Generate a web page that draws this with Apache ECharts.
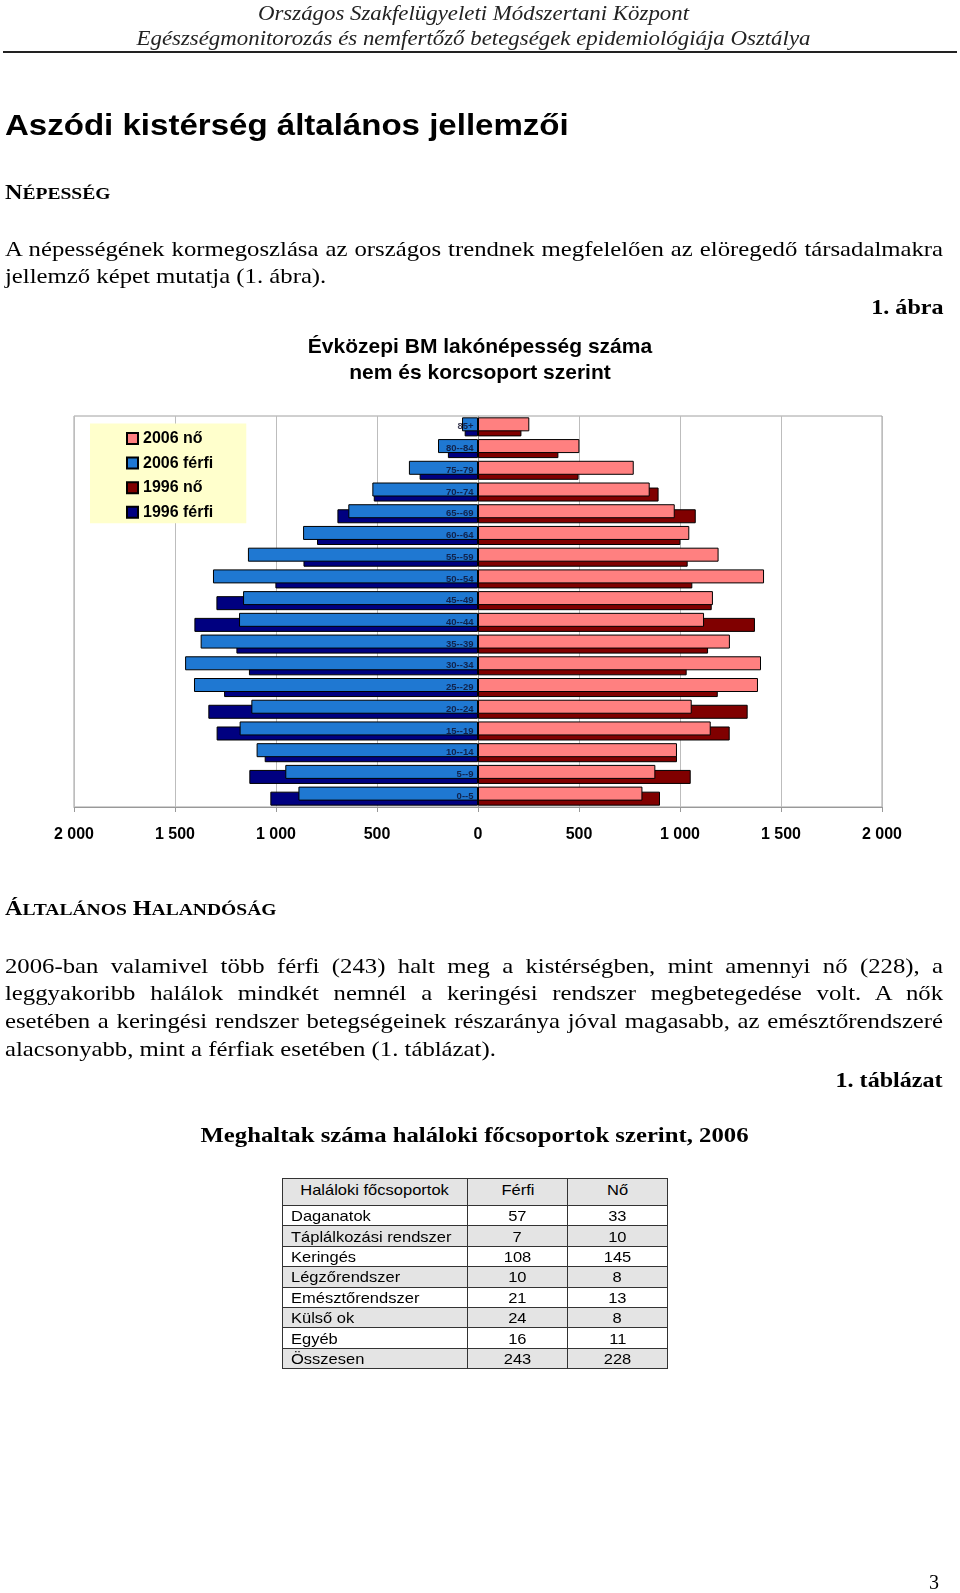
<!DOCTYPE html>
<html><head><meta charset="utf-8">
<script src="https://cdn.jsdelivr.net/npm/echarts@6/dist/echarts.min.js"></script>
<style>
html,body{margin:0;padding:0;background:#fff;}
body{width:960px;height:1593px;position:relative;overflow:hidden;}
#chart{position:absolute;left:0;top:0;width:960px;height:1593px;}
.t{position:absolute;white-space:nowrap;color:#000;}
.serif{font-family:"Liberation Serif","Times New Roman",serif;}
.sans{font-family:"Liberation Sans",Arial,sans-serif;}
.body{font-size:21.5px;line-height:21.5px;left:5px;transform:scaleX(1.15);transform-origin:0 50%;}
.j{width:815.7px;white-space:normal;text-align:justify;text-align-last:justify;}
.hd{font-weight:bold;font-size:21px;line-height:21px;left:5px;transform:scaleX(1.15);transform-origin:0 50%;}
.hd .sm{font-size:17px;}
.rt{right:17px;text-align:right;font-weight:bold;font-size:21.5px;line-height:21.5px;transform:scaleX(1.12);transform-origin:100% 50%;}
#tbl{position:absolute;left:282px;top:1178px;border-collapse:collapse;font-family:"Liberation Sans",Arial,sans-serif;font-size:15px;color:#000;}
#tbl td{border:1px solid #333;padding:0;height:19.4px;line-height:15px;text-align:center;}
#tbl tr.h td{vertical-align:top;padding-top:3px;height:23px;}
#tbl tr.g td{background:#e4e4e4;}
#tbl td.n{text-align:left;padding-left:8px;}
#tbl span{display:inline-block;transform:scaleX(1.1);transform-origin:50% 50%;}
#tbl td.n span{transform-origin:0 50%;}
</style></head>
<body>
<div id="chart"></div>

<div class="t serif" style="left:0;width:947px;text-align:center;top:2.8px;font-size:20.5px;line-height:20.5px;font-style:italic;color:#222;transform:scaleX(1.115);transform-origin:50% 50%;">Országos Szakfelügyeleti Módszertani Központ</div>
<div class="t serif" style="left:0;width:947px;text-align:center;top:28.3px;font-size:20.5px;line-height:20.5px;font-style:italic;color:#222;transform:scaleX(1.115);transform-origin:50% 50%;">Egészségmonitorozás és nemfertőző betegségek epidemiológiája Osztálya</div>
<div style="position:absolute;left:3px;top:51px;width:954px;height:2px;background:#222;"></div>

<div class="t sans" style="left:5px;top:110px;font-size:29.5px;line-height:29.5px;font-weight:bold;transform:scaleX(1.12);transform-origin:0 50%;">Aszódi kistérség általános jellemzői</div>

<div class="t serif hd" style="top:182.4px;">N<span class="sm">ÉPESSÉG</span></div>

<div class="t serif body j" style="top:238.7px;">A népességének kormegoszlása az országos trendnek megfelelően az elöregedő társadalmakra</div>
<div class="t serif body" style="top:266px;">jellemző képet mutatja (1. ábra).</div>
<div class="t serif rt" style="top:296.8px;">1. ábra</div>

<div class="t serif hd" style="top:897.9px;">Á<span class="sm">LTALÁNOS</span> H<span class="sm">ALANDÓSÁG</span></div>

<div class="t serif body j" style="top:955.5px;">2006-ban valamivel több férfi (243) halt meg a kistérségben, mint amennyi nő (228), a</div>
<div class="t serif body j" style="top:983.2px;">leggyakoribb halálok mindkét nemnél a keringési rendszer megbetegedése volt. A nők</div>
<div class="t serif body j" style="top:1011px;">esetében a keringési rendszer betegségeinek részaránya jóval magasabb, az emésztőrendszeré</div>
<div class="t serif body" style="top:1038.8px;">alacsonyabb, mint a férfiak esetében (1. táblázat).</div>
<div class="t serif rt" style="top:1070px;">1. táblázat</div>

<div class="t serif" style="left:0;width:949px;text-align:center;top:1125px;font-size:21.5px;line-height:21.5px;font-weight:bold;transform:scaleX(1.15);transform-origin:50% 50%;">Meghaltak száma haláloki főcsoportok szerint, 2006</div>

<table id="tbl"></table>

<div class="t serif" style="right:21px;top:1572.3px;font-size:20px;line-height:20px;">3</div>

<script>
// ---- chart data ----
const categories = ['85+','80--84','75--79','70--74','65--69','60--64','55--59','50--54','45--49','40--44','35--39','30--34','25--29','20--24','15--19','10--14','5--9','0--5'];
const female2006 = [254, 502, 771, 850, 974, 1046, 1191, 1416, 1163, 1119, 1247, 1401, 1386, 1058, 1152, 985, 878, 814];
const male2006   = [79, 198, 342, 523, 642, 866, 1139, 1312, 1163, 1183, 1373, 1450, 1406, 1122, 1180, 1096, 954, 889];
const female1996 = [215, 398, 498, 894, 1078, 1002, 1038, 1061, 1157, 1371, 1139, 1033, 1187, 1335, 1246, 985, 1053, 901];
const male1996   = [66, 149, 289, 516, 696, 797, 864, 1003, 1295, 1404, 1196, 1134, 1257, 1335, 1294, 1056, 1132, 1028];
const seriesNames = ['2006 nő', '2006 férfi', '1996 nő', '1996 férfi'];
const xTicks = [-2000, -1500, -1000, -500, 0, 500, 1000, 1500, 2000];

// ---- table data ----
const tableHeader = ['Haláloki főcsoportok', 'Férfi', 'Nő'];
const causes = ['Daganatok', 'Táplálkozási rendszer', 'Keringés', 'Légzőrendszer', 'Emésztőrendszer', 'Külső ok', 'Egyéb', 'Összesen'];
const deathsMale = [57, 7, 108, 10, 21, 24, 16, 243];
const deathsFemale = [33, 10, 145, 8, 13, 8, 11, 228];

// build table
(function(){
  const tbl = document.getElementById('tbl');
  const colW = [185, 100, 100];
  let html = '<colgroup>' + colW.map(w => '<col style="width:' + w + 'px">').join('') + '</colgroup>';
  html += '<tr class="h g">' + tableHeader.map(h => '<td><span>' + h + '</span></td>').join('') + '</tr>';
  causes.forEach((c, i) => {
    html += '<tr' + (i % 2 === 1 ? ' class="g"' : '') + '><td class="n"><span>' + c + '</span></td><td><span>' + deathsMale[i] + '</span></td><td><span>' + deathsFemale[i] + '</span></td></tr>';
  });
  tbl.innerHTML = html;
  tbl.style.width = '385px';
  tbl.style.tableLayout = 'fixed';
})();

function fmt(v) {
  const a = Math.abs(v);
  if (a >= 1000) return Math.floor(a / 1000) + ' ' + String(a % 1000).padStart(3, '0');
  return String(a);
}

const FONT = '"Liberation Sans", Arial, sans-serif';
const chart = echarts.init(document.getElementById('chart'), null, {renderer: 'canvas'});
const barCommon = {type: 'bar', barWidth: 14, barGap: '-64%'};
chart.setOption({
  animation: false,
  textStyle: {fontFamily: FONT},
  title: {
    text: 'Évközepi BM lakónépesség száma\nnem és korcsoport szerint',
    left: 'center', top: 328.5,
    textStyle: {fontFamily: FONT, fontSize: 21, fontWeight: 'bold', color: '#000', lineHeight: 26.5}
  },
  legend: {
    data: seriesNames,
    orient: 'vertical', left: 90, top: 423.5,
    backgroundColor: '#FFFFCC',
    padding: [7, 33, 3, 36],
    itemWidth: 11, itemHeight: 11, itemGap: 8.6,
    icon: 'rect',
    textStyle: {fontFamily: FONT, fontSize: 16, fontWeight: 'bold', color: '#000'}
  },
  grid: {left: 74, right: 78, top: 416, bottom: 786, show: true, borderColor: '#a0a0a0', borderWidth: 1, containLabel: false},
  xAxis: {
    type: 'value', min: xTicks[0], max: xTicks[xTicks.length - 1], interval: 500,
    axisLine: {show: true, lineStyle: {color: '#999'}},
    axisTick: {show: true, length: 5, lineStyle: {color: '#999'}},
    splitLine: {show: true, lineStyle: {color: '#bdbdbd'}},
    axisLabel: {formatter: fmt, fontSize: 16, fontWeight: 'bold', color: '#000', margin: 20, fontFamily: FONT}
  },
  yAxis: {
    type: 'category', data: categories, inverse: true,
    axisLine: {show: false},
    axisTick: {show: false},
    splitLine: {show: false},
    axisLabel: {show: false}
  },
  series: [
    Object.assign({}, barCommon, {name: seriesNames[0], stack: 's2006', z: 3, data: female2006, itemStyle: {color: '#FF8080', borderColor: '#000', borderWidth: 1}}),
    Object.assign({}, barCommon, {name: seriesNames[1], stack: 's2006', z: 3, data: male2006.map(v => -v), itemStyle: {color: '#1f78d2', borderColor: '#000', borderWidth: 1}}),
    Object.assign({}, barCommon, {name: seriesNames[2], stack: 's1996', z: 2, data: female1996, itemStyle: {color: '#800000', borderColor: '#000', borderWidth: 1},
      markLine: {silent: true, symbol: 'none', z: 1, label: {show: false}, lineStyle: {color: '#999', type: 'solid', width: 1}, data: [{xAxis: 0}]}}),
    Object.assign({}, barCommon, {name: seriesNames[3], stack: 's1996', z: 2, data: male1996.map(v => -v), itemStyle: {color: '#000080', borderColor: '#000', borderWidth: 1}}),
    {
      name: 'labels', type: 'scatter', z: 10, silent: true,
      data: categories.map(c => [0, c]),
      symbolSize: 1, itemStyle: {color: 'rgba(0,0,0,0)'},
      label: {show: true, position: 'left', distance: 4, formatter: p => categories[p.dataIndex],
        fontSize: 9.5, fontWeight: 'bold', color: '#0e0e2a', fontFamily: FONT}
    }
  ]
});
</script>
</body></html>
